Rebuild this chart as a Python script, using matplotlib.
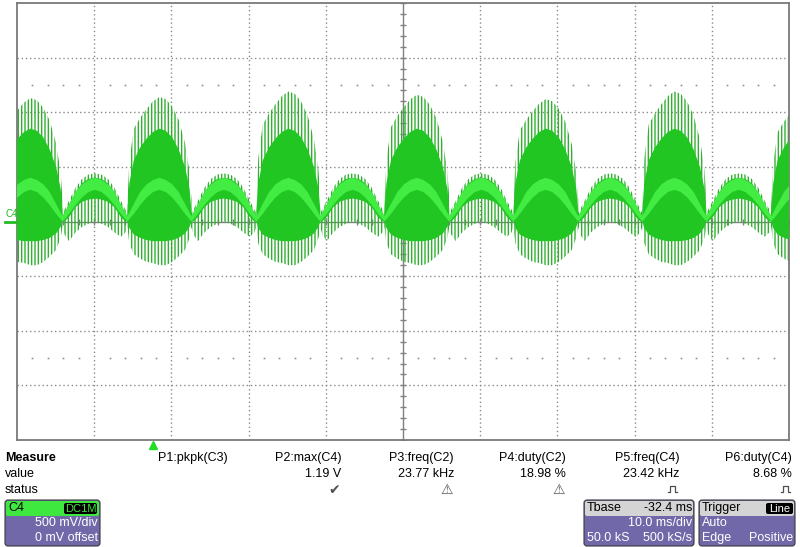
import numpy as np
import matplotlib
matplotlib.use("Agg")
import matplotlib.pyplot as plt
from matplotlib.patches import FancyBboxPatch

plt.rcParams['font.family'] = ['Liberation Sans', 'DejaVu Sans']
plt.rcParams['hatch.linewidth'] = 1.0

# scope settings
time_per_div = 10.0      # ms/div
volt_per_div = 0.5       # V/div
tbase = -32.4            # ms, time at screen centre relative to trigger -> centre = 32.4 ms

cusps_ms = [-20.0, -11.7, -3.3, 5.0, 13.4, 21.7, 30.0, 38.4, 46.7, 55.1, 63.4, 71.7, 80.1, 88.4]
arch_kind = ['B', 'S', 'B', 'S', 'B', 'S', 'B', 'S', 'B', 'S', 'B', 'S', 'B']
burst_peaks = [1.13, 1.14, 1.19, 1.16, 1.12, 1.19, 1.10]   # V, spike max in each burst

# envelope profiles across one half cycle (V)
phase = [0.0, 0.03, 0.1, 0.2, 0.3, 0.4, 0.5, 0.6, 0.7, 0.8, 0.9, 0.97, 1.0]
burst_spike_top = [0.15, 0.55, 0.85, 0.95, 1.03, 1.10, 1.14, 1.12, 1.05, 0.93, 0.72, 0.45, 0.20]
burst_body_top = [0.10, 0.35, 0.56, 0.68, 0.76, 0.82, 0.85, 0.83, 0.77, 0.66, 0.50, 0.30, 0.10]
burst_body_bot = [0.00, -0.06, -0.12, -0.15, -0.17, -0.18, -0.18, -0.18, -0.17, -0.15, -0.11, -0.05, 0.00]
burst_spike_bot = [-0.05, -0.20, -0.30, -0.34, -0.37, -0.38, -0.40, -0.40, -0.37, -0.32, -0.26, -0.15, -0.05]
arch_spike_top = [0.08, 0.11, 0.19, 0.31, 0.39, 0.43, 0.44, 0.43, 0.39, 0.31, 0.19, 0.11, 0.08]
arch_body_top = [0.05, 0.08, 0.15, 0.27, 0.35, 0.39, 0.40, 0.39, 0.35, 0.27, 0.15, 0.08, 0.05]
arch_body_bot = [0.00, 0.00, 0.04, 0.13, 0.18, 0.20, 0.21, 0.20, 0.18, 0.13, 0.04, 0.00, 0.00]
arch_spike_bot = [-0.05, -0.12, -0.18, -0.10, -0.05, -0.02, 0.00, -0.02, -0.05, -0.10, -0.14, -0.10, -0.05]
band_top = [0.05, 0.08, 0.16, 0.27, 0.34, 0.38, 0.40, 0.38, 0.34, 0.27, 0.16, 0.08, 0.05]
band_bot = [0.00, 0.02, 0.07, 0.15, 0.22, 0.27, 0.29, 0.27, 0.22, 0.15, 0.07, 0.02, 0.00]

# measurement panel
meas_names = ['P1:pkpk(C3)', 'P2:max(C4)', 'P3:freq(C2)', 'P4:duty(C2)', 'P5:freq(C4)', 'P6:duty(C4)']
meas_values = ['', '1.19 V', '23.77 kHz', '18.98 %', '23.42 kHz', '8.68 %']
meas_status = ['', 'ok', 'warn', 'warn', 'pulse', 'pulse']

# build the trace envelopes
t, s_top, s_bot, b_top, b_bot, w_top, w_bot = [], [], [], [], [], [], []
bi = 0
for k, kind in enumerate(arch_kind):
    tt = cusps_ms[k] + np.array(phase) * (cusps_ms[k + 1] - cusps_ms[k])
    t.append(tt)
    w_top.append(band_top)
    w_bot.append(band_bot)
    if kind == 'B':
        s_top.append(np.array(burst_spike_top) * burst_peaks[bi] / max(burst_spike_top))
        s_bot.append(burst_spike_bot)
        b_top.append(burst_body_top)
        b_bot.append(burst_body_bot)
        bi += 1
    else:
        s_top.append(arch_spike_top)
        s_bot.append(arch_spike_bot)
        b_top.append(arch_body_top)
        b_bot.append(arch_body_bot)
t = np.concatenate(t)
s_top, s_bot = np.concatenate(s_top), np.concatenate(s_bot)
b_top, b_bot = np.concatenate(b_top), np.concatenate(b_bot)
w_top, w_bot = np.concatenate(w_top), np.concatenate(w_bot)

fig = plt.figure(figsize=(8, 5.47), dpi=100)
ax = fig.add_axes([17 / 800, 1 - 440 / 547, 772 / 800, 437 / 547])
centre = -tbase
ax.set_xlim(centre - 5 * time_per_div, centre + 5 * time_per_div)
ax.set_ylim(-4 * volt_per_div, 4 * volt_per_div)
ax.set_xticks([])
ax.set_yticks([])
for sp in ax.spines.values():
    sp.set_color('#7a7a7a')
    sp.set_linewidth(1.3)

grid_c = '#8a8a8a'
for i in range(1, 10):
    if i != 5:
        ax.axvline(centre + (i - 5) * time_per_div, color=grid_c, lw=1, ls=(0, (1, 2)), zorder=0)
for j in range(1, 8):
    if j != 4:
        ax.axhline((j - 4) * volt_per_div, color=grid_c, lw=1, ls=(0, (1, 2)), zorder=0)
ax.axvline(centre, color='#808080', lw=1, zorder=0)
ax.axhline(0, color='#808080', lw=1, zorder=0)
xt = centre + np.arange(-25, 26) * time_per_div / 5
ax.plot(xt, np.zeros_like(xt), ls='none', marker='|', ms=5, mew=1, color='#808080', zorder=0)
yt = np.arange(-20, 21) * volt_per_div / 5
ax.plot(np.full_like(yt, centre), yt, ls='none', marker='_', ms=5, mew=1, color='#808080', zorder=0)
xm = np.array([x for x in xt if abs(((x - centre) / time_per_div) % 1) > 0.01 and abs(((x - centre) / time_per_div) % 1 - 1) > 0.01])
for yy in (2.5 * volt_per_div, -2.5 * volt_per_div):
    ax.plot(xm, np.full_like(xm, yy), ls='none', marker='s', ms=1.2, mew=0, color='#909090', zorder=0)

# trace
ax.fill_between(t, s_bot, s_top, facecolor='none', edgecolor='#2fb02f', hatch='|||||', lw=0, zorder=2)
ax.fill_between(t, b_bot, b_top, color='#22c622', lw=0, zorder=3)
ax.fill_between(t, w_bot, w_top, color='#42ec42', lw=0, zorder=4)

# trigger marker
ax.plot([0], [-0.012], transform=ax.get_xaxis_transform(), marker='^', ms=6,
        color='#22dd22', clip_on=False)

# overlay in pixel coordinates
ov = fig.add_axes([0, 0, 1, 1])
ov.set_xlim(0, 800)
ov.set_ylim(547, 0)
ov.axis('off')

ov.text(5, 214, 'C4', color='#22bb22', fontsize=7, va='center', ha='left')
ov.plot([5, 15], [221.5, 221.5], color='#22bb22', lw=2)

fs = 9
ov.text(5, 458, 'Measure', fontsize=fs, fontweight='bold', va='center')
ov.text(5, 474, 'value', fontsize=fs, va='center')
ov.text(5, 490, 'status', fontsize=fs, va='center')
col_right = [228, 341, 454, 566, 679, 792]
for x, name, val, st in zip(col_right, meas_names, meas_values, meas_status):
    ov.text(x, 458, name, fontsize=fs, ha='right', va='center')
    ov.text(x, 474, val, fontsize=fs, ha='right', va='center')
    if st == 'ok':
        ov.text(x - 1, 490, '\u2714', fontsize=10, ha='right', va='center', color='#505050',
                family=['DejaVu Sans'])
    elif st == 'warn':
        ov.text(x - 1, 490, '\u26a0', fontsize=10, ha='right', va='center', color='#505050',
                family=['DejaVu Sans'])
    elif st == 'pulse':
        px = x - 11
        ov.plot([px, px + 2, px + 2, px + 7, px + 7, px + 9],
                [492, 492, 486, 486, 492, 492], color='#505050', lw=0.9)


def box(x0, x1, head_color):
    ov.add_patch(FancyBboxPatch((x0, 500), x1 - x0, 46, boxstyle='round,pad=0,rounding_size=3',
                                fc='#7068a8', ec='#3a3a3a', lw=0.8))
    ov.add_patch(FancyBboxPatch((x0 + 1, 501), x1 - x0 - 2, 15, boxstyle='round,pad=0,rounding_size=2',
                                fc=head_color, ec='none'))


box(5, 100, '#3ee83e')
ov.text(8, 508, 'C4', fontsize=fs, va='center', color='black')
ov.add_patch(FancyBboxPatch((64, 503), 33, 11, boxstyle='round,pad=0,rounding_size=2', fc='black', ec='none'))
ov.text(80.5, 508.5, 'DC1M', fontsize=8, va='center', ha='center', color='#3ee83e')
ov.text(98, 523, '500 mV/div', fontsize=fs, va='center', ha='right', color='white')
ov.text(98, 538, '0 mV offset', fontsize=fs, va='center', ha='right', color='white')

box(584, 694, '#d4d4d4')
ov.text(587, 508, 'Tbase', fontsize=fs, va='center', color='black')
ov.text(692, 508, '-32.4 ms', fontsize=fs, va='center', ha='right', color='black')
ov.text(692, 523, '10.0 ms/div', fontsize=fs, va='center', ha='right', color='white')
ov.text(587, 538, '50.0 kS', fontsize=fs, va='center', color='white')
ov.text(692, 538, '500 kS/s', fontsize=fs, va='center', ha='right', color='white')

box(699, 795, '#d4d4d4')
ov.text(702, 508, 'Trigger', fontsize=fs, va='center', color='black')
ov.add_patch(FancyBboxPatch((766, 503), 27, 11, boxstyle='round,pad=0,rounding_size=2', fc='black', ec='none'))
ov.text(779.5, 508.5, 'Line', fontsize=8, va='center', ha='center', color='white')
ov.text(702, 523, 'Auto', fontsize=fs, va='center', color='white')
ov.text(702, 538, 'Edge', fontsize=fs, va='center', color='white')
ov.text(793, 538, 'Positive', fontsize=fs, va='center', ha='right', color='white')

fig.savefig('out.png', dpi=100)
